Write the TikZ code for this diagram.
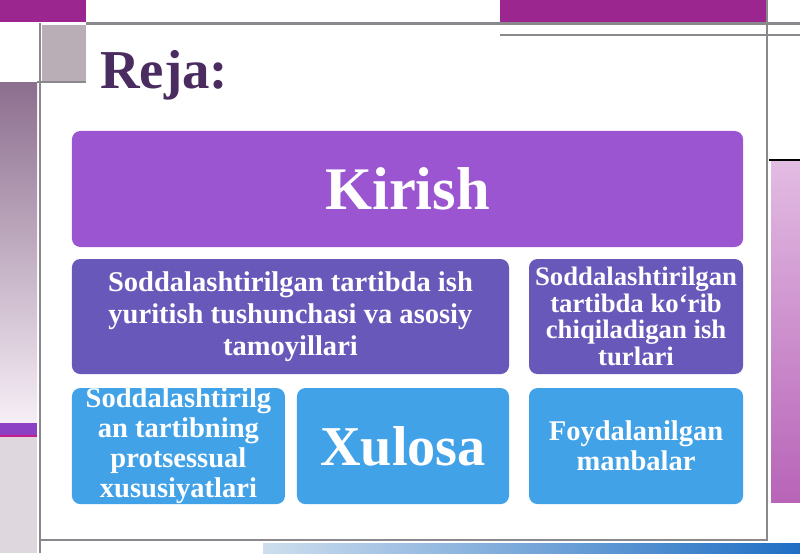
\documentclass[tikz,border=0pt]{standalone}
\usepackage{fontspec}
\setmainfont{Liberation Serif}
\usetikzlibrary{positioning}
\definecolor{kirishPurple}{RGB}{155,85,208}
\definecolor{midPurple}{RGB}{104,88,186}
\definecolor{lowBlue}{RGB}{66,162,232}
\definecolor{titleInk}{RGB}{74,44,96}
\definecolor{topMagenta}{RGB}{156,38,144}
\definecolor{frameGray}{RGB}{138,136,140}
\definecolor{tileGray}{RGB}{185,174,182}
\definecolor{stripMauve}{RGB}{140,110,142}
\definecolor{stripLight}{RGB}{246,238,246}
\definecolor{stripGray}{RGB}{222,216,222}
\definecolor{barPurple}{RGB}{140,64,196}
\definecolor{barRed}{RGB}{196,32,140}
\definecolor{pinkLight}{RGB}{226,188,226}
\definecolor{pinkDeep}{RGB}{184,100,184}
\definecolor{blueLight}{RGB}{206,222,238}
\definecolor{blueDeep}{RGB}{30,110,196}
\tikzset{
  planbox/.style={rounded corners=6pt, inner sep=0pt, outer sep=0pt, align=center, text=white},
  topbox/.style={planbox, fill=kirishPurple, minimum width=16.775cm, minimum height=2.9cm},
  midbox/.style={planbox, fill=midPurple, minimum height=2.875cm},
  lowbox/.style={planbox, fill=lowBlue, minimum height=2.9cm},
  frameline/.style={draw=frameGray, line width=2pt}
}
\begin{document}
\begin{tikzpicture}[x=0.025cm, y=-0.025cm]
  \useasboundingbox (0,0) rectangle (800,553);
  % slide frame
  \fill[white] (0,0) rectangle (800,553);
  \fill[topMagenta] (0,0) rectangle (86,22);
  \fill[topMagenta] (500,0) rectangle (766,22);
  \fill[tileGray] (42,25) rectangle (86,82);
  \shade[top color=stripMauve, bottom color=stripLight] (0,82) rectangle (37,423);
  \fill[barPurple] (0,423) rectangle (37,435);
  \fill[barRed] (0,435) rectangle (37,437);
  \fill[stripGray] (0,437) rectangle (37,553);
  \shade[top color=pinkLight, bottom color=pinkDeep] (771,160) rectangle (800,502);
  \draw[black, line width=1pt] (769,160) -- (800,160);
  \shade[left color=blueLight, right color=blueDeep] (263,543) rectangle (800,553);
  \draw[frameline] (86,23.5) -- (800,23.5);
  \draw[frameline] (500,35) -- (800,35);
  \draw[frameline] (37,82) -- (86,82);
  \draw[frameline] (40,23) -- (40,553);
  \draw[frameline] (767,0) -- (767,541);
  \draw[frameline] (40,540) -- (767,540);
  % title
  \node[anchor=base west, inner sep=0pt, text=titleInk, font=\fontsize{39}{42}\selectfont\bfseries] (reja) at (100,88) {Reja:};
  % plan boxes
  \node[topbox, font=\fontsize{43}{46}\selectfont\bfseries] (kirish) at (407.5,189) {Kirish};
  \node[midbox, minimum width=10.925cm, anchor=north west, font=\fontsize{20.3}{22.8}\selectfont\bfseries] (concept) at ([yshift=-0.3cm]kirish.south west)
    {Soddalashtirilgan tartibda ish\\yuritish tushunchasi va asosiy\\tamoyillari};
  \node[midbox, minimum width=5.35cm, right=0.5cm of concept, font=\fontsize{19}{18.8}\selectfont\bfseries] (types)
    {Soddalashtirilgan\\tartibda ko‘rib\\chiqiladigan ish\\turlari};
  \node[lowbox, minimum width=5.325cm, anchor=north west, font=\fontsize{20.3}{21.3}\selectfont\bfseries] (process) at ([yshift=-0.35cm]concept.south west)
    {Soddalashtirilg\\an tartibning\\protsessual\\xususiyatlari};
  \node[lowbox, minimum width=5.3cm, right=0.3cm of process, font=\fontsize{40}{44}\selectfont\bfseries] (xulosa) {Xulosa};
  \node[lowbox, minimum width=5.35cm, right=0.5cm of xulosa, font=\fontsize{20.3}{21.3}\selectfont\bfseries] (sources)
    {Foydalanilgan\\manbalar};
\end{tikzpicture}
\end{document}
